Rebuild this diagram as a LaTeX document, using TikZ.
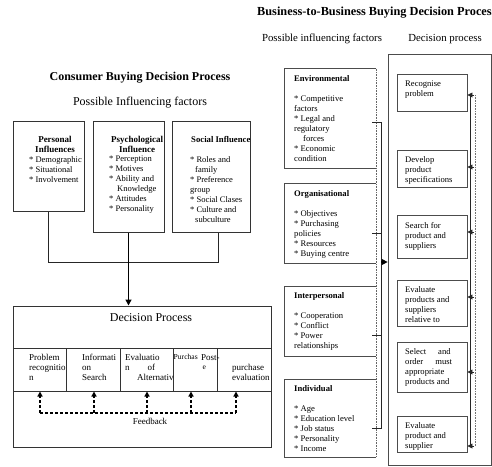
\documentclass[tikz,border=0pt]{standalone}
\usepackage{fontspec}
\setmainfont{Liberation Serif}
\usetikzlibrary{arrows.meta}

\begin{document}
\begin{tikzpicture}[x=1pt,y=1pt,
	box/.style={draw=black!80, line width=1pt, inner sep=0pt},
	sbox/.style={draw=black!70, line width=0.9pt, inner sep=0pt},
	txt/.style={inner sep=0pt, anchor=north west, align=left, font=\fontsize{8.5}{10}\selectfont},
	btxt/.style={inner sep=0pt, anchor=north west, align=left, font=\fontsize{8.6}{10}\selectfont},
	link/.style={draw=black!85, line width=0.8pt},
	tip/.style={-{Triangle[length=5pt,width=5pt]}},
	fb/.style={line width=1.3pt, dash pattern=on 3pt off 2pt}]
	\useasboundingbox (0,0) rectangle (492,-466);

	% consumer side
	\node[font=\fontsize{12}{14}\selectfont\bfseries] (ctitle) at (140,-78) {Consumer Buying Decision Process};
	\node[font=\fontsize{12}{14}\selectfont] (cfact) at (140,-103) {Possible Influencing factors};
	\node[box, minimum width=71, minimum height=90] (pers) at (48.5,-166) {};
	\node[box, minimum width=71, minimum height=111] (psych) at (128.5,-176.5) {};
	\node[box, minimum width=78, minimum height=111] (soc) at (211,-176.5) {};
	\node[txt, anchor=north, align=center, font=\fontsize{9}{10}\selectfont\bfseries] (perst) at (55,-136) {Personal\\Influences};
	\node[txt] (persl) at (29,-156) {* Demographic\\* Situational\\* Involvement};
	\node[txt, anchor=north, align=center, font=\fontsize{9}{10}\selectfont\bfseries] (psycht) at (137,-136) {Psychological\\Influence};
	\node[txt] (psychl) at (109,-156) {* Perception\\* Motives\\* Ability and\\\hspace*{8pt}Knowledge\\* Attitudes\\* Personality};
	\node[txt, font=\fontsize{8.7}{10}\selectfont\bfseries] (soct) at (191,-136) {Social Influence};
	\node[txt] (socl) at (190,-156) {* Roles and\\\hspace*{5pt}family\\* Preference\\group\\* Social Clases\\* Culture and\\\hspace*{5pt}subculture};

	\coordinate (join) at (218,-262);
	\draw[link] (pers.south) |- (join) -- ([xshift=7pt]soc.south);
	\node[box, minimum width=258, minimum height=141] (dp) at (142,-376.5) {};
	\draw[line width=1.4pt, -{Triangle[length=6pt,width=6pt]}] (psych.south) -- (psych.south |- dp.north);
	\node[font=\fontsize{12}{14}\selectfont] (dpt) at (151,-318) {Decision Process};

	\node[box, minimum width=53, minimum height=43] (c1) at (39.5,-369.5) {};
	\node[box, minimum width=54, minimum height=43] (c2) at (93,-369.5) {};
	\node[box, minimum width=53, minimum height=43] (c3) at (146.5,-369.5) {};
	\node[box, minimum width=44, minimum height=43] (c4) at (195,-369.5) {};
	\node[box, minimum width=54, minimum height=43] (c5) at (244,-369.5) {};
	\node[txt, font=\fontsize{9}{10}\selectfont] (c1t) at (29,-354) {Problem\\recognitio\\n};
	\node[txt, font=\fontsize{9}{10}\selectfont] (c2t) at (82,-354) {Informati\\on\\Search};
	\node[txt, font=\fontsize{9}{10}\selectfont] (c3t) at (125,-354) {Evaluatio\\n\hspace{18pt}of\\\hspace*{12pt}Alternativ};
	\node[txt, font=\fontsize{7.6}{10}\selectfont] (c4t) at (173.5,-354.5) {Purchas\\\hspace*{29pt}e};
	\node[txt, font=\fontsize{9}{10}\selectfont] (c5t) at (201,-354) {Post-};
	\node[txt, font=\fontsize{9}{10}\selectfont] (c5u) at (232,-364) {purchase\\evaluation};

	% feedback loop
	\coordinate (fb1) at (40,-413);
	\coordinate (fb2) at (94,-413);
	\coordinate (fb3) at (147,-413);
	\coordinate (fb4) at (191,-413);
	\coordinate (fb5) at (236,-413);
	\draw[fb] (fb1) -- (fb5);
	\draw[fb, tip] (fb1) -- (fb1 |- c1.south);
	\draw[fb, tip] (fb2) -- (fb2 |- c2.south);
	\draw[fb, tip] (fb3) -- (fb3 |- c3.south);
	\draw[fb, tip] (fb4) -- (fb4 |- c4.south);
	\draw[fb, tip] (fb5) -- (fb5 |- c5.south);
	\node[font=\fontsize{9}{10}\selectfont] (fbt) at (150,-421) {Feedback};

	% business-to-business side
	\node[anchor=west, inner sep=0pt, font=\fontsize{12.3}{14}\selectfont\bfseries] (btitle) at (257,-13) {Business-to-Business Buying Decision Process};
	\node[font=\fontsize{10.8}{12}\selectfont] (bfact) at (322,-39) {Possible influencing factors};
	\node[font=\fontsize{10.8}{12}\selectfont] (bproc) at (445,-39) {Decision process};

	\node[inner sep=0pt, minimum width=91, minimum height=99] (env) at (330.5,-118.5) {};
	\node[inner sep=0pt, minimum width=91, minimum height=79] (org) at (330.5,-223.5) {};
	\node[inner sep=0pt, minimum width=91, minimum height=69] (inter) at (330.5,-321.5) {};
	\node[inner sep=0pt, minimum width=91, minimum height=77] (indiv) at (330.5,-418.5) {};
	\foreach \b in {env,org,inter,indiv}
		\draw[sbox] (\b.north east) -| (\b.south west) -- (\b.south east);
	\draw[black!60, line width=0.6pt, densely dotted] (env.north east) -- (indiv.south east);

	\node[btxt] (envt) at (294,-75) {\textbf{Environmental}\\[10pt]* Competitive\\factors\\* Legal and\\regulatory\\\hspace*{9pt}forces\\* Economic\\condition};
	\node[btxt] (orgt) at (294,-190) {\textbf{Organisational}\\[10pt]* Objectives\\* Purchasing\\policies\\* Resources\\* Buying centre};
	\node[btxt] (intert) at (294,-292) {\textbf{Interpersonal}\\[10pt]* Cooperation\\* Conflict\\* Power\\relationships};
	\node[btxt] (indivt) at (294,-385) {\textbf{Individual}\\[10pt]* Age\\* Education level\\* Job status\\* Personality\\* Income};

	\coordinate (t1) at (381,-122);
	\coordinate (t2) at (381,-233);
	\coordinate (t3) at (381,-335);
	\coordinate (t4) at (381,-428);
	\coordinate (tj) at (381,-262);
	\draw[link] ([xshift=-9pt]t1) -- (t1) -- (t4) -- ([xshift=-9pt]t4);
	\draw[link] ([xshift=-9pt]t2) -- (t2);
	\draw[link] ([xshift=-9pt]t3) -- (t3);

	\node[draw=black!70, line width=0.7pt, minimum width=103, minimum height=411, inner sep=0pt] (dp2) at (439.5,-259.5) {};
	\draw[line width=1.2pt, -{Triangle[length=6pt,width=6pt]}] (tj) -- (tj -| dp2.west);

	\node[sbox, minimum width=70, minimum height=37] (s1) at (432,-92.5) {};
	\node[sbox, minimum width=70, minimum height=37] (s2) at (432,-168.5) {};
	\node[sbox, minimum width=70, minimum height=43] (s3) at (432,-236.5) {};
	\node[sbox, minimum width=70, minimum height=46] (s4) at (432,-303) {};
	\node[sbox, minimum width=70, minimum height=50] (s5) at (432,-367) {};
	\node[sbox, minimum width=70, minimum height=36] (s6) at (432,-434) {};
	\node[btxt] (s1t) at (405,-81) {Recognise\\problem};
	\node[btxt] (s2t) at (405,-156) {Develop\\product\\specifications};
	\node[btxt] (s3t) at (405,-222) {Search for\\product and\\suppliers};
	\node[btxt] (s4t) at (405,-286) {Evaluate\\products and\\suppliers\\relative to};
	\node[btxt] (s5t) at (405,-348) {Select\hspace{12pt}and\\order\hspace{12pt}must\\appropriate\\products and};
	\node[btxt] (s6t) at (405,-422) {Evaluate\\product and\\supplier};

	\coordinate (a1) at (470,-95);
	\coordinate (a2) at (470,-167);
	\coordinate (a3) at (470,-232);
	\coordinate (a4) at (470,-297);
	\coordinate (a5) at (470,-372);
	\coordinate (a6) at (470,-446);
	\draw[link] (a1) -- (a6);
	\draw[black!55, line width=0.6pt, densely dotted] ([xshift=5pt]a1) -- ([xshift=5pt]a6);
	\draw[link, tip] ([xshift=4pt]a1) -- (a1 -| s1.east);
	\draw[link, tip] ([xshift=4pt]a2) -- (a2 -| s2.east);
	\draw[link, tip] ([xshift=4pt]a3) -- (a3 -| s3.east);
	\draw[link, tip] ([xshift=4pt]a4) -- (a4 -| s4.east);
	\draw[link, tip] ([xshift=4pt]a5) -- (a5 -| s5.east);
	\draw[link, tip] ([xshift=4pt]a6) -- (a6 -| s6.east);
\end{tikzpicture}
\end{document}
